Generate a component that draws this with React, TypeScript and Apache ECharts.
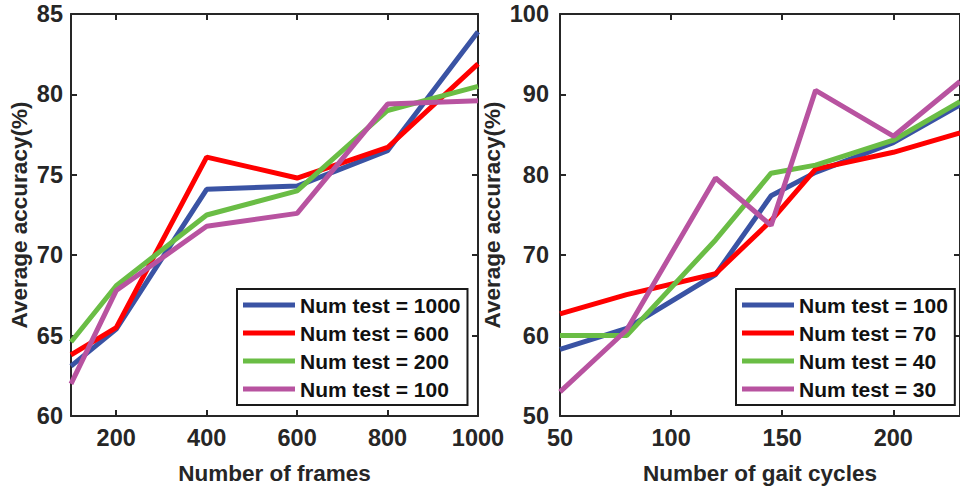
import React, { useEffect, useRef } from "react";
import * as echarts from "echarts";

const framesX = [100, 200, 400, 600, 800, 1000];
const frames1000 = [63.1, 65.4, 74.1, 74.3, 76.5, 83.9];
const frames600 = [63.8, 65.5, 76.1, 74.8, 76.7, 81.9];
const frames200 = [64.6, 68.1, 72.5, 74.0, 79.0, 80.5];
const frames100 = [62.0, 67.8, 71.8, 72.6, 79.4, 79.6];

const cyclesX = [50, 80, 120, 145, 165, 200, 230];
const cycles100 = [58.3, 60.9, 67.6, 77.4, 80.3, 84.0, 88.7];
const cycles70 = [62.7, 65.1, 67.7, 74.3, 80.7, 82.8, 85.2];
const cycles40 = [60.0, 60.0, 71.9, 80.2, 81.2, 84.3, 89.1];
const cycles30 = [53.0, 60.7, 79.6, 73.7, 90.5, 84.8, 91.6];

const framesTicks = [200, 400, 600, 800, 1000];
const cyclesTicks = [50, 100, 150, 200];
const leftYTicks = [60, 65, 70, 75, 80, 85];
const rightYTicks = [50, 60, 70, 80, 90, 100];

const leftNames = ["Num test = 1000", "Num test = 600", "Num test = 200", "Num test = 100"];
const rightNames = ["Num test = 100", "Num test = 70", "Num test = 40", "Num test = 30"];

const COLORS = ["#3A53A4", "#FF0000", "#6ABD45", "#B853A0"];
const AX = "#262626";
const FONT = "Liberation Sans, Arial, sans-serif";

const pair = (xs: number[], ys: number[]) => xs.map((x, i) => [x, ys[i]]);

export default function App() {
  const ref = useRef<HTMLDivElement>(null);
  useEffect(() => {
    if (!ref.current) return;
    const chart = echarts.init(ref.current, null, { renderer: "svg" });
    const labelStyle = { color: AX, fontSize: 23.5, fontWeight: "bold", fontFamily: FONT };
    const nameStyle = { color: AX, fontSize: 22.5, fontWeight: "bold", fontFamily: FONT };
    const line = { lineStyle: { color: AX, width: 2 } };
    const tickIn = (vals: number[]) => ({
      inside: true,
      length: 6,
      lineStyle: { color: AX, width: 2 },
      customValues: vals,
    });
    const fmt = (v: number) => String(v);
    const mainX = (gi: number, min: number, max: number, ticks: number[], name: string) => ({
      type: "value",
      gridIndex: gi,
      min,
      max,
      position: "bottom",
      name,
      nameLocation: "middle",
      nameGap: 46,
      nameTextStyle: nameStyle,
      axisLine: line,
      axisTick: tickIn(ticks),
      axisLabel: { ...labelStyle, margin: 10, customValues: ticks, formatter: fmt },
      splitLine: { show: false },
    });
    const topX = (gi: number, min: number, max: number, ticks: number[]) => ({
      type: "value",
      gridIndex: gi,
      min,
      max,
      position: "top",
      axisLine: line,
      axisTick: tickIn(ticks),
      axisLabel: { show: false },
      splitLine: { show: false },
    });
    const mainY = (gi: number, min: number, max: number, ticks: number[], gap: number, margin: number) => ({
      type: "value",
      gridIndex: gi,
      min,
      max,
      position: "left",
      name: "Average accuracy(%)",
      nameLocation: "middle",
      nameGap: gap,
      nameTextStyle: nameStyle,
      axisLine: line,
      axisTick: tickIn(ticks),
      axisLabel: { ...labelStyle, margin, customValues: ticks, formatter: fmt },
      splitLine: { show: false },
    });
    const rightY = (gi: number, min: number, max: number, ticks: number[]) => ({
      type: "value",
      gridIndex: gi,
      min,
      max,
      position: "right",
      axisLine: line,
      axisTick: tickIn(ticks),
      axisLabel: { show: false },
      splitLine: { show: false },
    });
    const ser = (name: string, xs: number[], ys: number[], color: string, axis: number) => ({
      type: "line",
      name,
      xAxisIndex: axis,
      yAxisIndex: axis,
      data: pair(xs, ys),
      symbol: "none",
      color,
      lineStyle: { color, width: 5 },
    });
    const legendBase = {
      orient: "vertical",
      icon: "rect",
      itemWidth: 52,
      itemHeight: 5,
      itemGap: 0,
      selectedMode: false,
      padding: [2, 7, 2, 6],
      borderColor: "#1a1a1a",
      borderWidth: 2,
      borderRadius: 0,
      backgroundColor: "#ffffff",
      textStyle: { color: "#111", fontSize: 21, fontWeight: "bold", fontFamily: FONT, lineHeight: 28 },
    };
    chart.setOption({
      animation: false,
      backgroundColor: "#ffffff",
      grid: [
        { left: 71, top: 14, width: 407, height: 404 },
        { left: 560, top: 14, width: 406, height: 404 },
      ],
      xAxis: [
        mainX(0, 100, 1000, framesTicks, "Number of frames"),
        mainX(1, 50, 230, cyclesTicks, "Number of gait cycles"),
        topX(0, 100, 1000, framesTicks),
        topX(1, 50, 230, cyclesTicks),
      ],
      yAxis: [
        mainY(0, 60, 85, leftYTicks, 40, 8),
        mainY(1, 50, 100, rightYTicks, 56, 11),
        rightY(0, 60, 85, leftYTicks),
        rightY(1, 50, 100, rightYTicks),
      ],
      legend: [
        { ...legendBase, left: 237, top: 289, data: leftNames },
        {
          ...legendBase,
          left: 736,
          top: 289,
          data: rightNames.map((n) => "R|" + n),
          formatter: (n: string) => n.replace(/^R\|/, ""),
        },
      ],
      series: [
        ser(leftNames[0], framesX, frames1000, COLORS[0], 0),
        ser(leftNames[1], framesX, frames600, COLORS[1], 0),
        ser(leftNames[2], framesX, frames200, COLORS[2], 0),
        ser(leftNames[3], framesX, frames100, COLORS[3], 0),
        ser("R|" + rightNames[0], cyclesX, cycles100, COLORS[0], 1),
        ser("R|" + rightNames[1], cyclesX, cycles70, COLORS[1], 1),
        ser("R|" + rightNames[2], cyclesX, cycles40, COLORS[2], 1),
        ser("R|" + rightNames[3], cyclesX, cycles30, COLORS[3], 1),
      ],
    });
    return () => chart.dispose();
  }, []);
  return (
    <div
      ref={ref}
      style={{ position: "absolute", left: 0, top: 0, width: 960, height: 490, overflow: "hidden" }}
    />
  );
}
